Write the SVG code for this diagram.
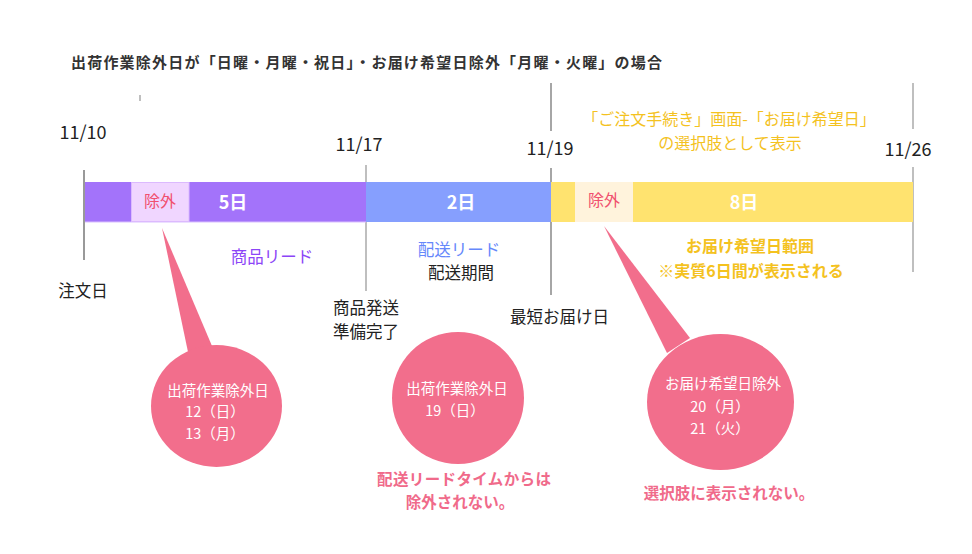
<svg xmlns="http://www.w3.org/2000/svg" width="972" height="554" viewBox="0 0 972 554">
<style>
text{font-family:"Noto Sans CJK JP","Noto Sans",sans-serif}
.lbl{font-size:16.5px;fill:#222}
.date{font-size:18px;fill:#222;text-anchor:middle}
.ex{font-size:16px;fill:#f0506e;text-anchor:middle}
.num{font-size:18px;font-weight:bold;fill:#fff;text-anchor:middle}
.cw{font-size:14.5px;fill:#fff;text-anchor:middle}
.note{font-size:15.5px;font-weight:bold;fill:#f06a8a;text-anchor:middle}
.yel{fill:#f4c21f;text-anchor:middle}
.pink{fill:#f26e8c}
.vl{stroke-width:1.5;fill:none}
</style>
<rect width="972" height="554" fill="#fff"/>
<g id="title">
<text x="71" y="67.5" font-size="15" font-weight="bold" fill="#333" textLength="591" lengthAdjust="spacing">出荷作業除外日が「日曜・月曜・祝日」・お届け希望日除外「月曜・火曜」の場合</text>
</g>
<g id="connectors">
<line class="vl" x1="84" y1="170" x2="84" y2="260" stroke="#777"/>
<line class="vl" x1="366" y1="165" x2="366" y2="291" stroke="#aaa"/>
<line class="vl" x1="551" y1="83" x2="551" y2="131" stroke="#888"/>
<line class="vl" x1="551" y1="168" x2="551" y2="295" stroke="#888"/>
<line class="vl" x1="913" y1="83" x2="913" y2="129" stroke="#aaa"/>
<line class="vl" x1="913" y1="167" x2="913" y2="272" stroke="#aaa"/>
<line x1="140" y1="95" x2="140" y2="101" stroke="#aaa" stroke-width="1.5"/>
</g>
<g id="bar-product">
<rect x="85" y="182" width="281" height="40" fill="#a373fa"/>
<line x1="85" y1="222" x2="366" y2="222" stroke="#d9c0ff" stroke-width="1"/>
<rect x="131.5" y="182.5" width="57.5" height="39" fill="#f0d6ff" stroke="#dcbafe" stroke-width="1"/>
<text class="ex" x="160" y="207">除外</text>
<text class="num" x="233" y="208.5">5日</text>
</g>
<g id="bar-delivery">
<rect x="366" y="182" width="185" height="40" fill="#869ffe"/>
<text class="num" x="461" y="208.5">2日</text>
</g>
<g id="bar-range">
<rect x="551" y="182" width="362" height="40" fill="#ffe36f"/>
<rect x="575" y="182" width="58" height="40" fill="#fff3dc"/>
<text class="ex" x="604" y="206">除外</text>
<text class="num" x="744" y="208.5">8日</text>
</g>
<g id="dates">
<text class="date" x="83" y="138.5">11/10</text>
<text class="date" x="359" y="150.5">11/17</text>
<text class="date" x="550" y="154.5">11/19</text>
<text class="date" x="908" y="155.5">11/26</text>
</g>
<g id="labels">
<text x="729" y="125" font-size="16" class="yel">「ご注文手続き」画面-「お届け希望日」</text>
<text x="730" y="149" font-size="16" class="yel">の選択肢として表示</text>
<text x="272" y="263" font-size="16.5" fill="#8c45f7" text-anchor="middle">商品リード</text>
<text x="459" y="256" font-size="16.5" fill="#6688fb" text-anchor="middle">配送リード</text>
<text class="lbl" x="461" y="279" text-anchor="middle">配送期間</text>
<text class="lbl" x="83" y="297" text-anchor="middle">注文日</text>
<text class="lbl" x="333" y="314">商品発送</text>
<text class="lbl" x="333" y="338">準備完了</text>
<text class="lbl" x="510" y="323">最短お届け日</text>
<text x="750" y="252" font-size="16" font-weight="bold" class="yel">お届け希望日範囲</text>
<text x="751" y="277" font-size="16" font-weight="bold" class="yel">※実質6日間が表示される</text>
</g>
<g id="callout-1">
<polygon class="pink" points="162,228 188,352 212,346"/>
<ellipse class="pink" cx="216.5" cy="406" rx="65.5" ry="61"/>
<text class="cw" x="218" y="395.5">出荷作業除外日</text>
<text class="cw" x="215" y="416.5">12（日）</text>
<text class="cw" x="215" y="438.5">13（月）</text>
</g>
<g id="callout-2">
<ellipse class="pink" cx="458" cy="398" rx="66" ry="66"/>
<text class="cw" x="457" y="393.5">出荷作業除外日</text>
<text class="cw" x="455" y="415.5">19（日）</text>
<text class="note" x="464" y="485" textLength="174" lengthAdjust="spacing">配送リードタイムからは</text>
<text class="note" x="460" y="508">除外されない。</text>
</g>
<g id="callout-3">
<polygon class="pink" points="604,226 667,353 690,338"/>
<ellipse class="pink" cx="720.5" cy="402" rx="73.5" ry="68"/>
<text class="cw" x="723" y="388.5">お届け希望日除外</text>
<text class="cw" x="720" y="411.5">20（月）</text>
<text class="cw" x="720" y="433.5">21（火）</text>
<text class="note" x="729" y="499">選択肢に表示されない。</text>
</g>
</svg>
